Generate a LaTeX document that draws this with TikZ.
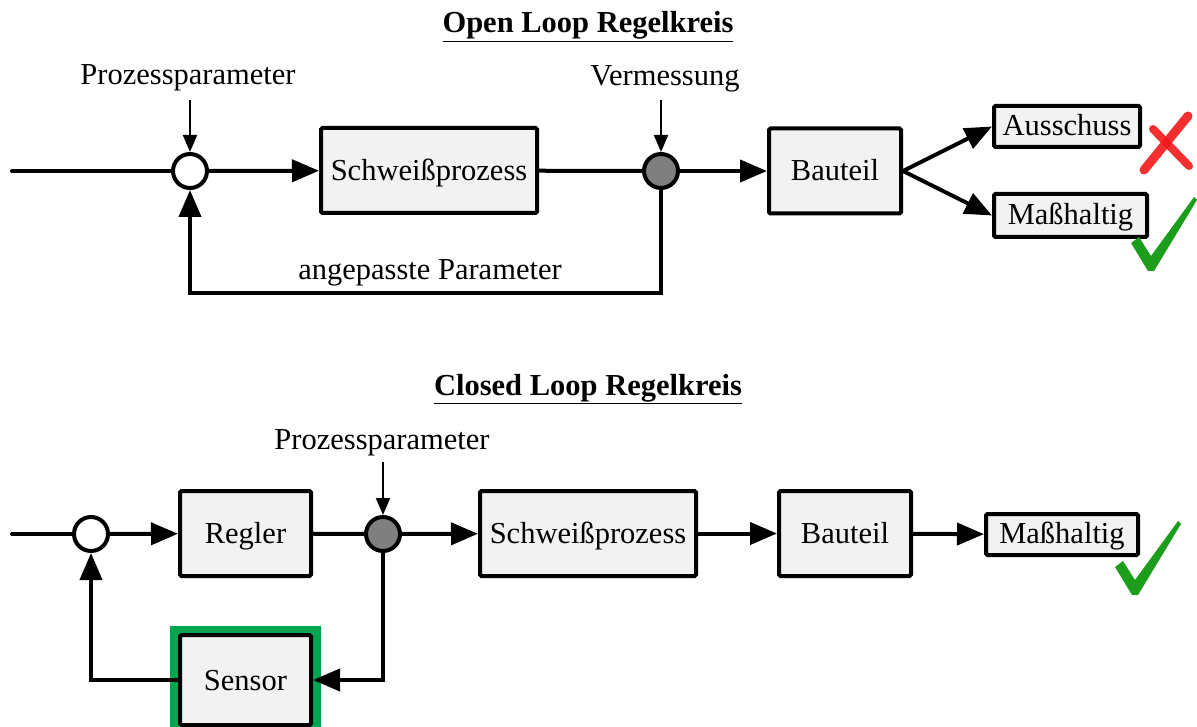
\documentclass[tikz,border=0pt]{standalone}
\usepackage{fontspec}
\setmainfont{Liberation Serif}
\usetikzlibrary{arrows.meta,calc}
\definecolor{boxgray}{HTML}{F2F2F2}
\definecolor{sumgray}{HTML}{7F7F7F}
\definecolor{sensgreen}{HTML}{00A550}
\definecolor{chkgreen}{HTML}{1C9E1C}
\definecolor{xred}{HTML}{F21818}
\begin{document}
\begin{tikzpicture}[x=1pt,y=-1pt,
  every node/.style={font=\fontsize{30.5}{36}\selectfont},
  blk/.style={draw=black, line width=4pt, fill=boxgray, rounded corners=1.5pt, inner sep=0pt, minimum height=85pt, text height=20pt, text depth=0pt},
  sumw/.style={circle, draw=black, line width=4pt, fill=white, minimum size=34pt, inner sep=0pt},
  sumg/.style={sumw, fill=sumgray},
  thk/.style={line width=4pt},
  thkarr/.style={thk, -{Triangle[length=27pt,width=22pt]}},
  thnarr/.style={line width=2pt, -{Triangle[length=17pt,width=14pt]}},
  lbl/.style={anchor=base, inner sep=0pt},
  ttl/.style={anchor=base, inner sep=0pt, font=\fontsize{30.5}{36}\selectfont\bfseries}]
\useasboundingbox (0,0) rectangle (1197,727);

% ---------- titles
\node[ttl] (t1) at (588,33) {\underline{Open Loop Regelkreis}};
\node[ttl] (t2) at (588,395) {\underline{Closed Loop Regelkreis}};

% ---------- open loop
\coordinate (in1) at (12,171);
\node[sumw] (c1) at (190,171) {};
\node[sumg] (c2) at (661,171) {};
\node[blk, minimum width=216pt] (sp1) at (429,170.5) {Schwei\ss prozess};
\node[blk, minimum width=132pt] (bt1) at (835,171) {Bauteil};
\node[blk, minimum width=146pt, minimum height=41pt, text height=18pt] (aus) at (1067,126.5) {Ausschuss};
\node[blk, minimum width=153pt, minimum height=43pt, text height=18pt] (mh1) at (1070.5,215.5) {Ma\ss haltig};

\node[lbl] (pp1) at (188,85) {Prozessparameter};
\node[lbl] (vm) at (665,86) {Vermessung};
\node[lbl] (ap) at (430,280) {angepasste Parameter};
\coordinate (pp1a) at (190,100);
\coordinate (vma) at (661,100);
\coordinate (fb1) at (425,293);

\draw[thk, line cap=round] (in1) -- (c1);
\draw[thkarr] (c1) -- (sp1);
\draw[thk] (sp1) -- (c2);
\draw[thkarr] (c2) -- (bt1);
\draw[thkarr] (bt1.east) -- (aus.west);
\draw[thkarr] (bt1.east) -- (mh1.west);
\draw[thnarr] (pp1a) -- (c1.north);
\draw[thnarr] (vma) -- (c2.north);
\draw[thkarr] (c2.south) |- (fb1) -| (c1.south);

% red X
\draw[xred, line width=9pt, line cap=round, opacity=0.9] (1144,170) -- (1188,116);
\draw[xred, line width=8pt, line cap=round, opacity=0.9] (1153,129) -- (1189,166);

% green checks
\foreach \dx/\dy in {0/0, -16/324}{
\fill[chkgreen, shift={(\dx,\dy)}] (1131,243) -- (1139,237) -- (1151,256) -- (1194,197) -- (1197,200) -- (1154,271) -- (1148,271) -- cycle;
}

% ---------- closed loop
\coordinate (in2) at (12,534);
\node[sumw] (c3) at (91,534) {};
\node[sumg] (c4) at (383,534) {};
\node[blk, minimum width=131pt] (rg) at (245.5,533.5) {Regler};
\node[blk, minimum width=216pt] (sp2) at (588,533.5) {Schwei\ss prozess};
\node[blk, minimum width=132pt] (bt2) at (845,533.5) {Bauteil};
\node[blk, minimum width=152pt, minimum height=41pt, text height=18pt] (mh2) at (1062,534.5) {Ma\ss haltig};
\fill[sensgreen] (170,626) rectangle (321,735);
\node[blk, minimum width=131pt, minimum height=90pt] (sen) at (245.5,680) {Sensor};
\node[lbl] (pp2) at (382,449) {Prozessparameter};
\coordinate (pp2a) at (383,462);

\draw[thk, line cap=round] (in2) -- (c3);
\draw[thkarr] (c3) -- (rg);
\draw[thk] (rg) -- (c4);
\draw[thkarr] (c4) -- (sp2);
\draw[thkarr] (sp2) -- (bt2);
\draw[thkarr] (bt2) -- (mh2);
\draw[thnarr] (pp2a) -- (c4.north);
\draw[thkarr] (c4.south) |- (sen.east);
\draw[thkarr] (sen.west) -| (c3.south);
\end{tikzpicture}
\end{document}
